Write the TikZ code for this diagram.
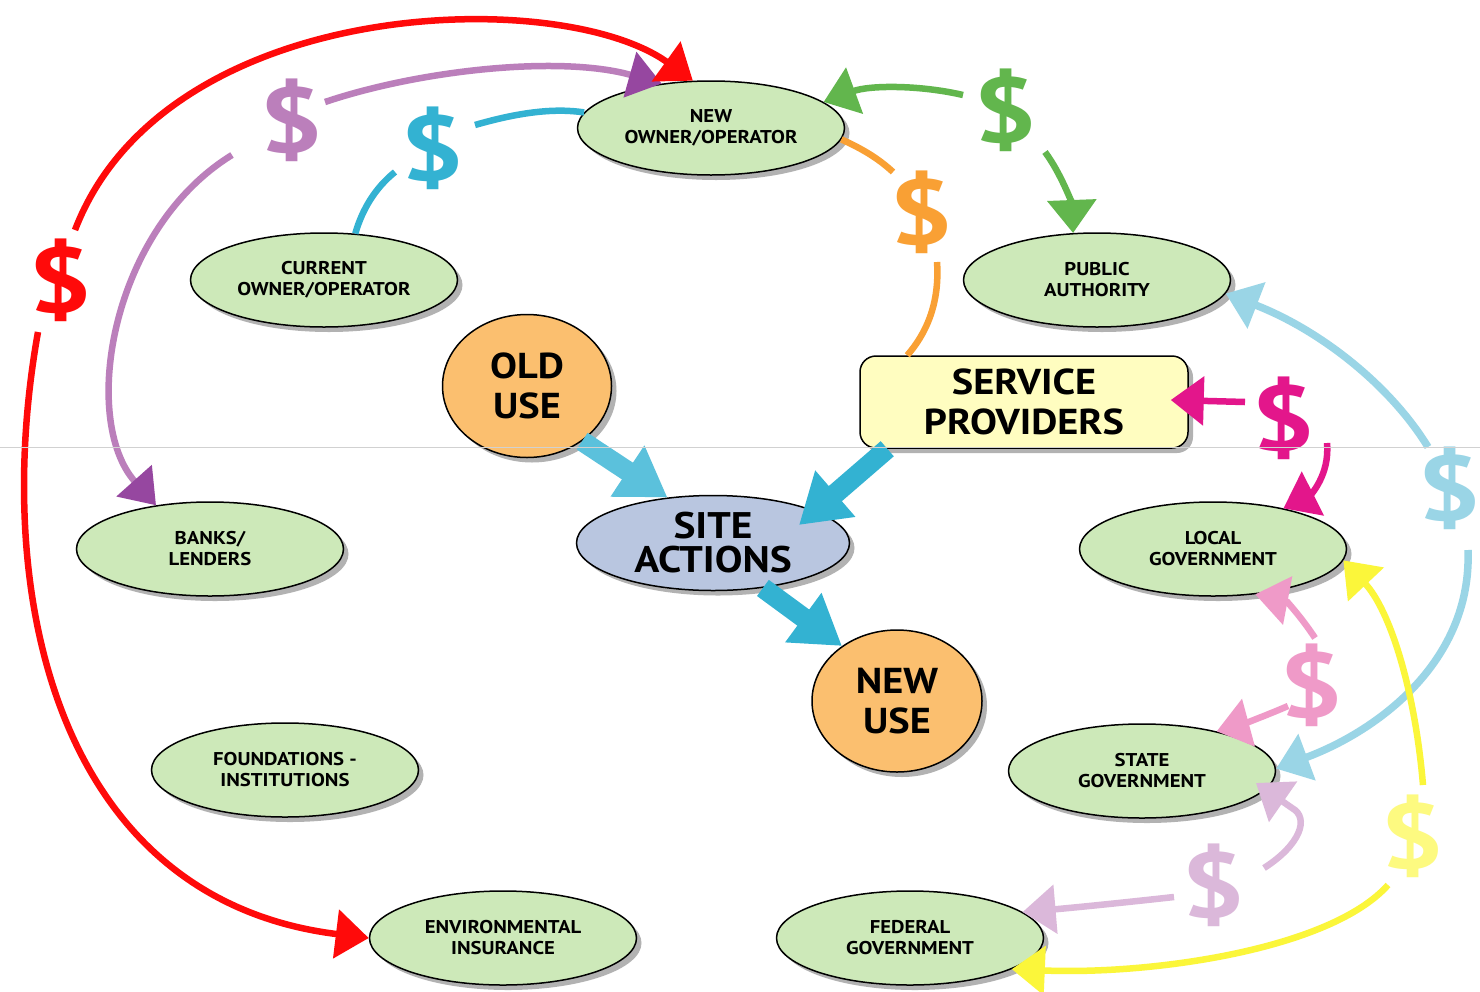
\documentclass[tikz,border=0pt]{standalone}
\usepackage{fontspec}
\setmainfont{PT Sans}
\newfontfamily\lblfont[FakeStretch=1.12]{PT Sans}
\newfontfamily\dolfont[FakeStretch=1.22]{PT Sans}
\usetikzlibrary{shapes.geometric,arrows.meta,shadows,calc}
\definecolor{gfill}{HTML}{CDE9B9}
\definecolor{sitefill}{HTML}{B9C6E0}
\definecolor{orfill}{HTML}{FBBF6F}
\definecolor{servfill}{HTML}{FFFDC0}
\definecolor{cred}{HTML}{FF0A0A}
\definecolor{cpur}{HTML}{BB7FBB}
\definecolor{cpurd}{HTML}{9647A0}
\definecolor{ccyan}{HTML}{33B2D2}
\definecolor{ccyanl}{HTML}{5BC1DC}
\definecolor{cgreen}{HTML}{62B64D}
\definecolor{corange}{HTML}{F9A034}
\definecolor{cmag}{HTML}{E3168B}
\definecolor{clblue}{HTML}{9AD5E6}
\definecolor{cpink}{HTML}{EF9AC8}
\definecolor{clav}{HTML}{DBB8DA}
\definecolor{cyel}{HTML}{FBF63A}
\definecolor{cyell}{HTML}{FDFA80}
\begin{document}
\begin{tikzpicture}[x=1pt,y=-1pt,
  shad/.style={drop shadow={shadow xshift=5pt,shadow yshift=-5pt,fill=black!60}},
  gnode/.style={ellipse,draw=black,line width=1.5pt,fill=gfill,minimum width=267pt,minimum height=94pt,inner sep=0pt,align=center,font=\lblfont\fontsize{18.5}{21}\selectfont\bfseries,shad},
  bignode/.style={draw=black,line width=1.5pt,inner sep=0pt,align=center,font=\lblfont\fontsize{36}{40}\selectfont\bfseries,shad},
  dollar/.style={inner sep=0pt,font=\dolfont\fontsize{92}{92}\selectfont\bfseries},
  flow/.style={line width=6.5pt},
  tipA/.style={-{Triangle[length=33pt,width=48pt]}},
  bigarrow/.style={line width=20pt,-{Triangle[length=48pt,width=58pt]}}
]
\fill[white] (0,0) rectangle (1480,991);
\useasboundingbox (0,0) rectangle (1480,991);

% nodes
\node[gnode] (newown) at (711,128) {NEW\\OWNER/OPERATOR};
\node[gnode] (curown) at (324,280) {CURRENT\\OWNER/OPERATOR};
\node[gnode] (pubauth) at (1097,280) {PUBLIC\\AUTHORITY};
\node[gnode] (banks) at (210,549) {BANKS/\\LENDERS};
\node[gnode] (found) at (285,770) {FOUNDATIONS -\\INSTITUTIONS};
\node[gnode] (envins) at (503,938) {ENVIRONMENTAL\\INSURANCE};
\node[gnode] (localgov) at (1213,549) {LOCAL\\GOVERNMENT};
\node[gnode] (stategov) at (1142,771) {STATE\\GOVERNMENT};
\node[gnode] (fedgov) at (910,938) {FEDERAL\\GOVERNMENT};
\node[bignode,ellipse,fill=sitefill,minimum width=273pt,minimum height=95pt,font=\lblfont\fontsize{37}{34}\selectfont\bfseries] (site) at (713,543) {SITE\\ACTIONS};
\node[bignode,ellipse,fill=orfill,minimum width=169pt,minimum height=143pt] (olduse) at (527,386) {OLD\\USE};
\node[bignode,ellipse,fill=orfill,minimum width=170pt,minimum height=142pt] (newuse) at (897,701) {NEW\\USE};
\node[bignode,rectangle,rounded corners=16pt,fill=servfill,minimum width=328pt,minimum height=92pt] (serv) at (1024,402) {SERVICE\\PROVIDERS};

% dollar signs
\node[dollar,text=cred] (dred) at (60,280) {\$};
\node[dollar,text=cpur] (dpur) at (291,120) {\$};
\node[dollar,text=ccyan] (dcy) at (432,148) {\$};
\node[dollar,text=cgreen] (dgr) at (1005,110) {\$};
\node[dollar,text=corange] (dor) at (921,212) {\$};
\node[dollar,text=cmag] (dmg) at (1283,418) {\$};
\node[dollar,text=clblue] (dlb) at (1449,488) {\$};
\node[dollar,text=cpink] (dpk) at (1311,685) {\$};
\node[dollar,text=clav] (dlv) at (1213,885) {\$};
\node[dollar,text=cyell] (dyl) at (1412,836) {\$};

% free ends near the dollar signs
\coordinate (redA) at (75,230);
\coordinate (redB) at (38,332);
\coordinate (purA) at (325,102);
\coordinate (purB) at (232,155);
\coordinate (cyA) at (395,172);
\coordinate (cyB) at (475,125);
\coordinate (grA) at (963,95);
\coordinate (grB) at (1045,152);
\coordinate (orA) at (893,172);
\coordinate (orB) at (937,262);
\coordinate (mgA) at (1245,402);
\coordinate (mgB) at (1327,443);
\coordinate (lbA) at (1428,447);
\coordinate (lbB) at (1468,550);
\coordinate (pkA) at (1315,638);
\coordinate (pkB) at (1288,706);
\coordinate (lvA) at (1264,868);
\coordinate (lvC) at (1292,808);
\coordinate (ylA) at (1423,785);
\coordinate (ylB) at (1388,885);
\coordinate (lvB) at (1174,897);

% purple
\draw[flow,cpur,-{Triangle[length=33pt,width=46pt,color=cpurd]}] (purA) .. controls (420,70) and (560,55) .. (newown.138);
\draw[flow,cpur,-{Triangle[length=33pt,width=46pt,color=cpurd]}] (purB) .. controls (110,230) and (80,420) .. (banks.141);
% red
\draw[flow,cred,tipA] (redA) .. controls (165,-5) and (560,-15) .. (newown.111);
\draw[flow,cred,tipA] (redB) .. controls (-10,600) and (60,900) .. (envins.west);
% cyan
\draw[flow,ccyan] (curown.56) .. controls (362,210) and (375,188) .. (cyA);
\draw[flow,ccyan] (cyB) .. controls (520,112) and (555,108) .. (newown.173);
% green
\draw[flow,cgreen,tipA] (grA) .. controls (920,85) and (870,85) .. (newown.13);
\draw[flow,cgreen,tipA] (grB) .. controls (1062,175) and (1072,205) .. (pubauth.117);
% orange
\draw[flow,corange] (newown.-5) .. controls (865,150) and (880,160) .. (orA);
\draw[flow,corange] (orB) .. controls (940,305) and (925,335) .. ($(serv.north west)+(48,0)$);
% magenta
\draw[flow,cmag,tipA] (mgA) -- ($(serv.east)+(-18,-2)$);
\draw[flow,cmag,tipA] (mgB) .. controls (1330,475) and (1310,495) .. (localgov.30);
% light blue
\draw[flow,clblue,line width=7.5pt,tipA] (lbA) .. controls (1390,385) and (1320,330) .. (pubauth.-6);
\draw[flow,clblue,line width=7.5pt,tipA] (lbB) .. controls (1472,660) and (1380,730) .. (stategov.1);
% pink
\draw[flow,cpink,tipA] (pkA) .. controls (1300,615) and (1285,600) .. (localgov.-47);
\draw[flow,cpink,tipA] (pkB) .. controls (1265,716) and (1240,725) .. (stategov.28);
% lavender
\draw[flow,clav,tipA] (lvA) .. controls (1300,845) and (1310,818) .. (lvC) -- ($(stategov.center)+(114,12)$);
\draw[flow,clav,tipA] (lvB) .. controls (1120,903) and (1070,908) .. (fedgov.13);
% yellow
\draw[flow,cyel,tipA] (ylA) .. controls (1415,690) and (1390,610) .. (localgov.-5);
\draw[flow,cyel,tipA] (ylB) .. controls (1330,950) and (1150,975) .. (fedgov.-17);

% big arrows
\draw[bigarrow,ccyanl] (olduse.-45) -- (site.135);
\draw[bigarrow,ccyan] ($(serv.south west)+(28,0)$) -- ($(site.center)+(86,-18)$);
\draw[bigarrow,ccyan] (site.-42) -- (newuse.135);

% faint scan line
\draw[black!18,line width=1pt] (0,447) -- (1480,447);
\end{tikzpicture}
\end{document}
